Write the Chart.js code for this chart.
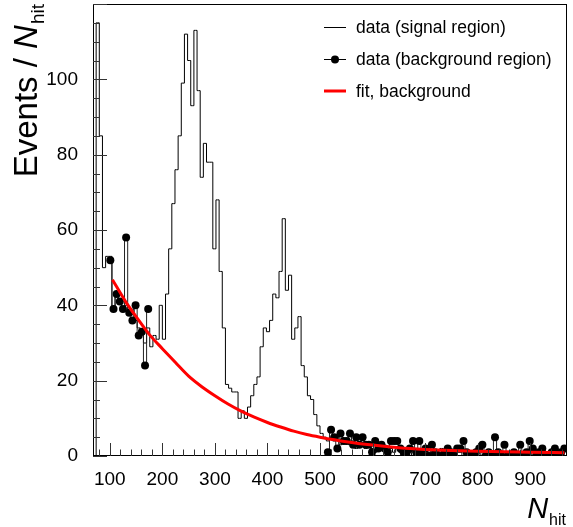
<!DOCTYPE html>
<html>
<head>
<meta charset="utf-8">
<script src="https://cdn.jsdelivr.net/npm/chart.js@4/dist/chart.umd.min.js"></script>
<style>
html,body{margin:0;padding:0;background:#fff;}
#wrap{width:573px;height:527px;position:relative;}
</style>
</head>
<body>
<div id="wrap"><canvas id="c" width="573" height="527"></canvas></div>
<script>
// ---- data ----
const binStart = 68;   // first bin low edge
const binWidth = 6;    // histogram bin width

// signal-region histogram, one value per bin (150 bins from 68 to 968)
const signalCounts = [
  0,115,85,50,53,53,39,43,41,39,
  40,38,39,36,34,33,30,34,29,32,
  31,40,31,43,55,67,76,85,99,112,
  105,93,113,97,74,83,78,78,55,68,
  49,34,19,18,17,17,10,12,10,13,
  16,19,21,29,34,33,36,43,42,49,
  63,44,48,31,34,37,24,21,16,15,
  11,8,6,5,4,5,4,5,3,4,
  4,3,4,2,3,3,2,3,2,1,
  2,3,2,1,2,1,2,1,1,2,
  1,0,1,2,1,0,1,1,0,1,
  2,1,0,1,0,1,1,0,1,0,
  1,1,0,1,0,0,1,0,1,0,
  1,0,0,1,0,1,0,0,1,0,
  0,1,0,0,1,0,0,1,0,0
];

// background-region data, same bins (null = no point)
const bgCountsLow = [52,39,43,41,39,58,38,36,40,32,33,24,39];       // bins 5..17
const bgLowFirstBin = 5;
const bgCountsHigh = [
  1,7,5,2,6,4,4,6,3,5,
  3,5,3,3,1,4,2,3,2,1,
  4,4,4,2,1,1,2,4,1,4,
  1,2,0,3,1,0,0,1,2,1,
  0,2,2,4,1,0,0,1,2,3,
  0,1,0,5,1,0,3,0,0,1,
  0,3,0,1,4,2,0,1,2,0,
  0,1,2,0,1,2
];                                                                   // bins 74..149
const bgHighFirstBin = 74;

// background fit curve
const fitX = [105,130,150,175,200,225,250,275,300,325,350,375,400,425,450,475,500,550,600,650,700,750,800,850,900,965];
const fitY = [46.8,41,37,32.3,28.5,24.8,21.2,18.4,16.0,13.8,11.9,10.3,8.9,7.7,6.6,5.7,5.0,3.8,2.9,2.2,1.75,1.45,1.25,1.1,1.0,0.85];

const xTickValues = [100,200,300,400,500,600,700,800,900];
const yTickValues = [0,20,40,60,80,100];
const legendLabels = ['data (signal region)','data (background region)','fit, background'];
const yTitle = 'Events / ';
const xTitleMain = 'N';
const titleSub = 'hit';

// ---- build datasets ----
const nBins = signalCounts.length;
const center = i => binStart + binWidth*(i+0.5);
const signalPts = [{x: binStart, y: 0}];
for (let i=0;i<nBins;i++) signalPts.push({x: center(i), y: signalCounts[i]});

const bgPts = [];
for (let i=0;i<nBins;i++) {
  let v = null;
  if (i>=bgLowFirstBin && i<bgLowFirstBin+bgCountsLow.length) v = bgCountsLow[i-bgLowFirstBin];
  if (i>=bgHighFirstBin && i<bgHighFirstBin+bgCountsHigh.length) v = bgCountsHigh[i-bgHighFirstBin];
  bgPts.push({x: center(i), y: v});
}
const fitPts = fitX.map((x,i)=>({x:x, y:fitY[i]}));

const FONT = "'Liberation Sans', Arial, Helvetica, sans-serif";

const rootPlugin = {
  id: 'rootStyle',
  afterDraw(chart) {
    const ctx = chart.ctx;
    const a = chart.chartArea;
    const xs = chart.scales.x, ys = chart.scales.y;
    ctx.save();
    // frame
    ctx.strokeStyle = '#000';
    ctx.lineWidth = 1;
    ctx.strokeRect(Math.round(a.left)+0.5, Math.round(a.top)+0.5, Math.round(a.right-a.left)-1, Math.round(a.bottom-a.top)-1);
    // ticks inside the frame
    ctx.strokeStyle = '#333';
    ctx.beginPath();
    for (let v=80; v<=xs.max; v+=20) {
      const px = Math.round(xs.getPixelForValue(v))+0.5;
      const len = (v%100===0) ? 13 : 6.5;
      ctx.moveTo(px, a.bottom); ctx.lineTo(px, a.bottom-len);
    }
    for (let v=0; v<=ys.max; v+=5) {
      const py = Math.round(ys.getPixelForValue(v))+0.5;
      const len = (v%20===0) ? 14 : 7;
      ctx.moveTo(a.left, py); ctx.lineTo(a.left+len, py);
    }
    ctx.stroke();

    // legend
    const lx0 = 324, lx1 = 346, tx = 356;
    const rows = [27, 59, 91];
    ctx.font = '17.5px ' + FONT;
    ctx.fillStyle = '#000';
    ctx.textBaseline = 'middle';
    ctx.textAlign = 'left';
    ctx.strokeStyle = '#000'; ctx.lineWidth = 1;
    ctx.beginPath(); ctx.moveTo(lx0, rows[0]+0.5); ctx.lineTo(lx1, rows[0]+0.5); ctx.stroke();
    ctx.beginPath(); ctx.moveTo(lx0, rows[1]+0.5); ctx.lineTo(lx1, rows[1]+0.5); ctx.stroke();
    ctx.beginPath(); ctx.arc((lx0+lx1)/2, rows[1]+0.5, 4, 0, Math.PI*2); ctx.fill();
    ctx.strokeStyle = '#ff0000'; ctx.lineWidth = 3;
    ctx.beginPath(); ctx.moveTo(lx0, rows[2]); ctx.lineTo(lx1, rows[2]); ctx.stroke();
    for (let i=0;i<3;i++) ctx.fillText(legendLabels[i], tx, rows[i]+1);

    // y title (rotated), ends near the top of the frame
    ctx.save();
    ctx.translate(37, 4);
    ctx.rotate(-Math.PI/2);
    ctx.textBaseline = 'alphabetic';
    ctx.textAlign = 'left';
    const fBig = '33px ' + FONT, fIt = 'italic 33px ' + FONT, fSub = '19px ' + FONT;
    ctx.font = fBig; const w1 = ctx.measureText(yTitle).width;
    ctx.font = fIt; const w2 = ctx.measureText(xTitleMain).width;
    ctx.font = fSub; const w3 = ctx.measureText(titleSub).width;
    let x0 = -(w1+w2+w3+1);
    ctx.font = fBig; ctx.fillText(yTitle, x0, 0);
    ctx.font = fIt; ctx.fillText(xTitleMain, x0+w1, 0);
    ctx.font = fSub; ctx.fillText(titleSub, x0+w1+w2+1, 7);
    ctx.restore();

    // x title
    ctx.textBaseline = 'alphabetic';
    ctx.font = 'italic 29px ' + FONT;
    const wn = ctx.measureText(xTitleMain).width;
    ctx.font = '16px ' + FONT;
    const wh = ctx.measureText(titleSub).width;
    const xr = 566;
    ctx.font = 'italic 29px ' + FONT;
    ctx.fillText(xTitleMain, xr - wh - wn - 1, 518);
    ctx.font = '16px ' + FONT;
    ctx.fillText(titleSub, xr - wh, 525);
    ctx.restore();
  }
};

new Chart(document.getElementById('c'), {
  type: 'line',
  data: {
    datasets: [
      {label: legendLabels[0], data: signalPts, stepped: 'middle', borderColor: '#000', borderWidth: 1,
       pointRadius: 0, fill: false, order: 3},
      {label: legendLabels[1], data: bgPts, stepped: 'middle', borderColor: '#222', borderWidth: 1,
       pointRadius: 4, pointBackgroundColor: '#000', pointBorderWidth: 0, spanGaps: false, fill: false, order: 2},
      {label: legendLabels[2], data: fitPts, borderColor: '#ff0000', borderWidth: 3, pointRadius: 0,
       cubicInterpolationMode: 'monotone', fill: false, order: 1}
    ]
  },
  options: {
    responsive: false,
    animation: false,
    events: [],
    layout: {padding: {left: 0, right: 6, top: 2, bottom: 0}},
    plugins: {legend: {display: false}, tooltip: {enabled: false}},
    scales: {
      x: {
        type: 'linear', min: 68, max: 970,
        afterBuildTicks: s => { s.ticks = xTickValues.map(v => ({value: v})); },
        afterFit: s => { s.height = 71; s.paddingLeft = 0; s.paddingRight = 0; },
        grid: {display: false, drawTicks: false},
        border: {display: false},
        ticks: {font: {family: FONT, size: 19}, color: '#000', padding: 12, maxRotation: 0, autoSkip: false}
      },
      y: {
        type: 'linear', min: 0, max: 120,
        afterBuildTicks: s => { s.ticks = yTickValues.map(v => ({value: v})); },
        afterFit: s => { s.width = 93; s.paddingTop = 0; s.paddingBottom = 0; },
        grid: {display: false, drawTicks: false},
        border: {display: false},
        ticks: {font: {family: FONT, size: 19}, color: '#000', padding: 15, autoSkip: false}
      }
    }
  },
  plugins: [rootPlugin]
});
</script>
</body>
</html>
